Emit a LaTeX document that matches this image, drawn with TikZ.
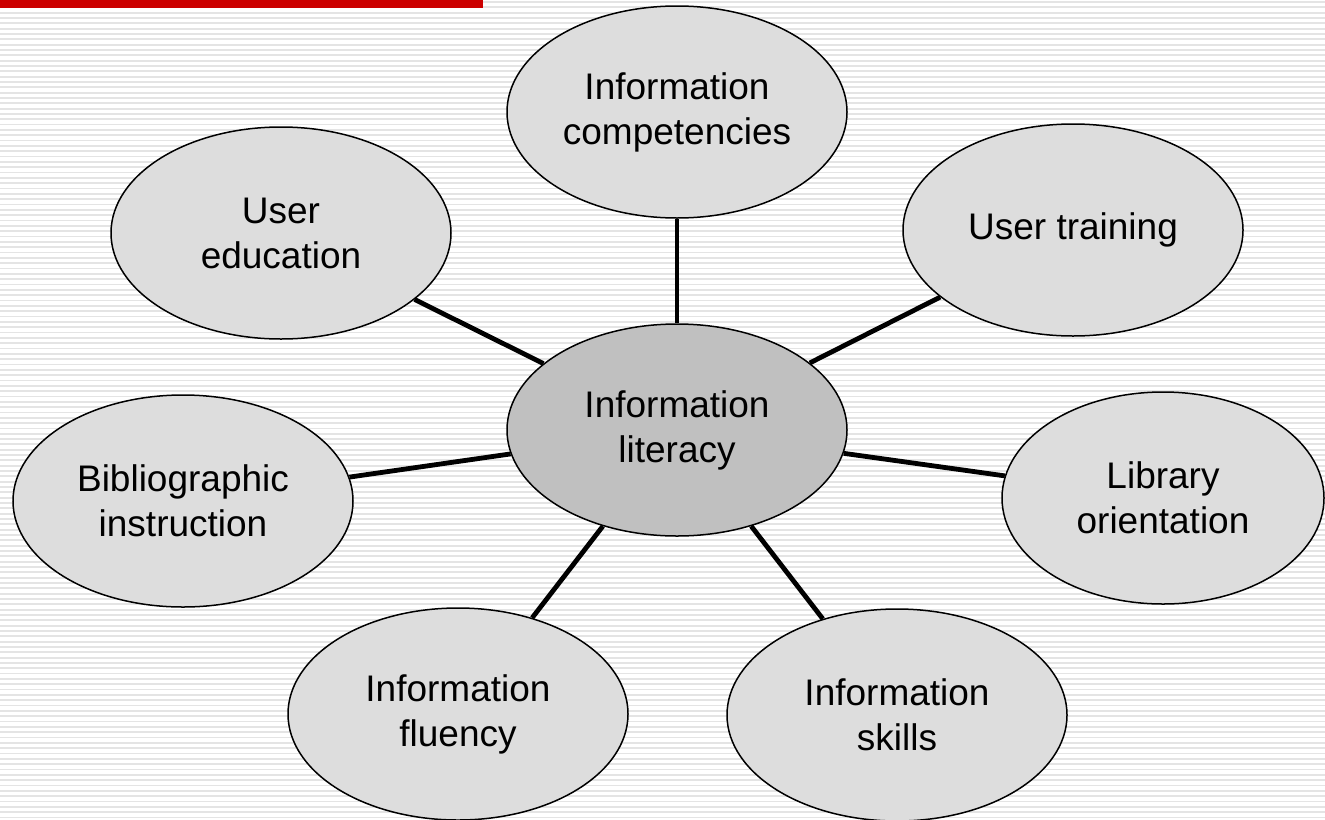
\documentclass[tikz,border=0pt]{standalone}
\usepackage{fontspec}
\setmainfont{Liberation Sans}
\usepackage{xcolor}
\usepackage{tikz}
\usetikzlibrary{shapes.geometric}
\definecolor{bar}{HTML}{CC0000}
\definecolor{stripe}{HTML}{E4E4E4}
\definecolor{outer}{HTML}{DDDDDD}
\definecolor{inner}{HTML}{C0C0C0}
\tikzset{
  term/.style={ellipse, draw=black, line width=0.75pt, fill=outer, inner sep=0pt,
    minimum width=170pt, minimum height=106pt,
    align=center, font=\fontsize{18.5}{22.5}\selectfont},
  hub/.style={term, fill=inner},
  link/.style={draw=black, line width=2.4pt},
}
\begin{document}
\begin{tikzpicture}[x=0.5pt, y=-0.5pt]
  \useasboundingbox (0,0) rectangle (1325,819);
  \fill[white] (0,0) rectangle (1325,819);
  \foreach \i in {0,...,153}
    \draw[stripe, line width=0.9pt] (0,{2+\i*5.33}) -- (1325,{2+\i*5.33});
  \fill[bar] (0,0) rectangle (483,8);
  \node[hub] (lit) at (677,430) {Information\\literacy};
  \node[term] (comp) at (677,112) {Information\\competencies};
  \node[term] (edu) at (281,233) {User\\education};
  \node[term] (train) at (1073,230) {User training};
  \node[term] (bib) at (183,501) {Bibliographic\\instruction};
  \node[term, minimum width=161pt] (lib) at (1163,498) {Library\\orientation};
  \node[term] (flu) at (458,714) {Information\\fluency};
  \node[term] (skill) at (897,715) {Information\\skills};
  \foreach \t in {comp,edu,train,bib,lib,flu,skill}
    \draw[link] (lit) -- (\t);
\end{tikzpicture}
\end{document}
